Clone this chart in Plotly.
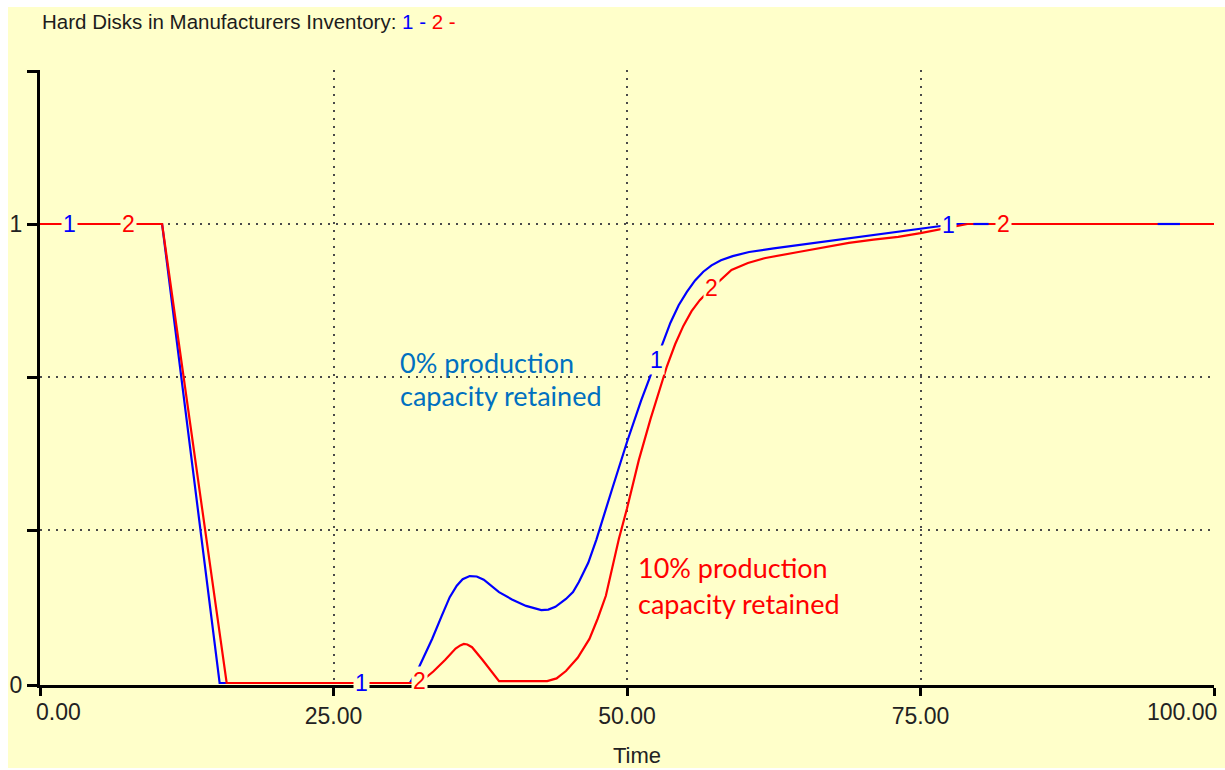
import numpy as np
import plotly.graph_objects as go

# Hard disks in manufacturers' inventory, run 1 (0% capacity retained)
time_1 = [0, 10.4, 15.3, 31.5, 32.2, 32.8, 33.4, 34.2, 34.9, 35.5, 36.0, 36.6, 37.2, 37.8,
          38.5, 39.1, 40.2, 41.4, 42.7, 43.3, 43.9, 44.8, 45.4, 45.9, 46.7, 47.4, 48.7,
          50.0, 51.2, 52.3, 53.0, 53.7, 54.4, 55.1, 55.8, 56.5, 57.2, 58.0, 59.0, 60.4,
          62.5, 64.6, 66.8, 68.9, 71.0, 73.1, 75.0, 77.0, 78.0, 100]
inventory_1 = [1, 1, 0, 0, 0.03, 0.062, 0.096, 0.145, 0.187, 0.212, 0.226, 0.233, 0.232, 0.225,
               0.211, 0.198, 0.182, 0.168, 0.159, 0.160, 0.166, 0.183, 0.198, 0.22, 0.262, 0.313, 0.42,
               0.525, 0.615, 0.69, 0.74, 0.785, 0.823, 0.852, 0.877, 0.896, 0.910, 0.921, 0.930, 0.939,
               0.947, 0.954, 0.962, 0.970, 0.977, 0.983, 0.989, 0.997, 1, 1]

# Run 2 (10% capacity retained)
time_2 = [0, 10.4, 15.9, 32.0, 32.8, 33.5, 34.5, 35.4, 35.8, 36.1, 36.4, 36.8, 37.7, 38.6,
          39.1, 43.2, 44.0, 44.8, 45.8, 46.8, 47.5, 48.2, 49.3, 50.0, 51.0, 52.0, 52.7,
          53.4, 54.1, 54.8, 55.5, 56.2, 57.0, 57.7, 58.9, 60.3, 61.8, 64.6, 66.8, 68.9,
          71.0, 73.1, 75.0, 76.5, 78.0, 79.0, 100]
inventory_2 = [1, 1, 0, 0, 0.01, 0.025, 0.05, 0.075, 0.082, 0.085, 0.084, 0.078, 0.05, 0.02,
               0.004, 0.004, 0.01, 0.026, 0.055, 0.096, 0.14, 0.19, 0.313, 0.38, 0.485, 0.575, 0.635,
               0.69, 0.738, 0.778, 0.81, 0.834, 0.855, 0.872, 0.900, 0.915, 0.926, 0.939, 0.949, 0.959,
               0.966, 0.972, 0.980, 0.987, 0.995, 1, 1]

# Where the run numbers are written along each curve
label_times_1 = [2.55, 27.4, 52.5, 77.4]
label_times_2 = [7.5, 32.3, 57.2, 82.1]
# Stretches where run 1 is painted over run 2
overlay_spans_1 = [(79.5, 80.8), (95.2, 97.1)]

x_ticks = [0, 25, 50, 75, 100]
x_tick_text = ["", "25.00", "50.00", "75.00", ""]
y_tick_text = ["0", "", "", "1", ""]

BG = "#FFFFCA"
BLUE = "#0000FF"
RED = "#FF0000"
AXIS_FONT = "Liberation Sans, Arial, sans-serif"
NOTE_FONT = "Lato, sans-serif"

W, H = 1225, 770
L, R, T, B = 40, 11, 70, 85
PW, PH = W - L - R, H - T - B
PX_PER_UNIT = 459.0
Y_MIN = -2 / PX_PER_UNIT           # curves at zero sit just above the axis line
Y_MAX = Y_MIN + PH / PX_PER_UNIT
# the zero tick sits on the axis line itself, so no grid dots run along it
y_ticks = [Y_MIN, 1 / 3, 2 / 3, 1, 4 / 3]


def px_x(px):
    return (px - L) / PW


def px_y(py):
    return (H - B - py) / PH


fig = go.Figure()
fig.add_trace(go.Scatter(x=time_1, y=inventory_1, mode="lines",
                         line=dict(color=BLUE, width=2.2), hoverinfo="skip"))
fig.add_trace(go.Scatter(x=time_2, y=inventory_2, mode="lines",
                         line=dict(color=RED, width=2.2), hoverinfo="skip"))

ov_x, ov_y = [], []
for a, b in overlay_spans_1:
    ov_x += [a, b, None]
    ov_y += [float(np.interp(a, time_1, inventory_1)), float(np.interp(b, time_1, inventory_1)), None]
fig.add_trace(go.Scatter(x=ov_x, y=ov_y, mode="lines",
                         line=dict(color=BLUE, width=2.2), hoverinfo="skip"))

annotations = []
for t in label_times_1:
    annotations.append(dict(x=t, y=float(np.interp(t, time_1, inventory_1)), xref="x", yref="y",
                            text="1", showarrow=False, bgcolor=BG, borderpad=1,
                            font=dict(family=AXIS_FONT, size=23, color=BLUE)))
for t in label_times_2:
    annotations.append(dict(x=t, y=float(np.interp(t, time_2, inventory_2)), xref="x", yref="y",
                            text="2", showarrow=False, bgcolor=BG, borderpad=1,
                            font=dict(family=AXIS_FONT, size=23, color=RED)))

# End labels of the time axis, kept inside the frame
annotations.append(dict(x=0, y=px_y(712), xref="x", yref="paper", text="0.00", showarrow=False,
                        xanchor="left", yanchor="middle", xshift=-6,
                        font=dict(family=AXIS_FONT, size=23, color="#222")))
annotations.append(dict(x=100, y=px_y(712), xref="x", yref="paper", text="100.00", showarrow=False,
                        xanchor="right", yanchor="middle", xshift=5,
                        font=dict(family=AXIS_FONT, size=23, color="#222")))
annotations.append(dict(x=px_x(637), y=px_y(755), xref="paper", yref="paper", text="Time",
                        showarrow=False, xanchor="center", yanchor="middle",
                        font=dict(family=AXIS_FONT, size=22, color="#222")))

# Header
annotations.append(dict(
    x=px_x(40), y=px_y(22), xref="paper", yref="paper", xanchor="left", yanchor="middle",
    showarrow=False,
    text=("Hard Disks in Manufacturers Inventory: "
          "<span style='color:#0000FF'>1 - </span><span style='color:#FF0000'>2 -</span>"),
    font=dict(family=AXIS_FONT, size=20.5, color="#1c1c1c")))

# Scenario notes
for txt, py in [("0% production", 362), ("capacity retained", 396)]:
    annotations.append(dict(x=px_x(398), y=px_y(py), xref="paper", yref="paper", text=txt,
                            showarrow=False, xanchor="left", yanchor="middle",
                            font=dict(family=NOTE_FONT, size=27, color="#0070C0")))
for txt, py in [("10% production", 567), ("capacity retained", 603)]:
    annotations.append(dict(x=px_x(636), y=px_y(py), xref="paper", yref="paper", text=txt,
                            showarrow=False, xanchor="left", yanchor="middle",
                            font=dict(family=NOTE_FONT, size=27, color="#FF0000")))

fig.update_layout(
    width=W, height=H,
    margin=dict(l=L, r=R, t=T, b=B, pad=0),
    paper_bgcolor="white",
    plot_bgcolor=BG,
    showlegend=False,
    annotations=annotations,
    shapes=[dict(type="rect", xref="paper", yref="paper", layer="below",
                 x0=px_x(8), x1=px_x(1225), y0=px_y(768), y1=px_y(7),
                 fillcolor=BG, line=dict(width=0))],
)
fig.update_xaxes(
    range=[0, 100], tickmode="array", tickvals=x_ticks, ticktext=x_tick_text,
    showgrid=True, gridcolor="#4a4a4a", gridwidth=2, griddash="2px,6px",
    showline=True, linecolor="black", linewidth=3, layer="below traces",
    ticks="outside", ticklen=8, tickwidth=3, tickcolor="black",
    tickfont=dict(family=AXIS_FONT, size=23, color="#222"),
    zeroline=False, fixedrange=True,
)
fig.update_yaxes(
    range=[Y_MIN, Y_MAX], tickmode="array", tickvals=y_ticks, ticktext=y_tick_text,
    showgrid=True, gridcolor="#4a4a4a", gridwidth=2, griddash="2px,6px",
    showline=True, linecolor="black", linewidth=3, layer="below traces",
    ticks="outside", ticklen=10, tickwidth=3, tickcolor="black",
    tickfont=dict(family=AXIS_FONT, size=23, color="#222"),
    zeroline=False, fixedrange=True,
)

fig.write_html("out.html")
